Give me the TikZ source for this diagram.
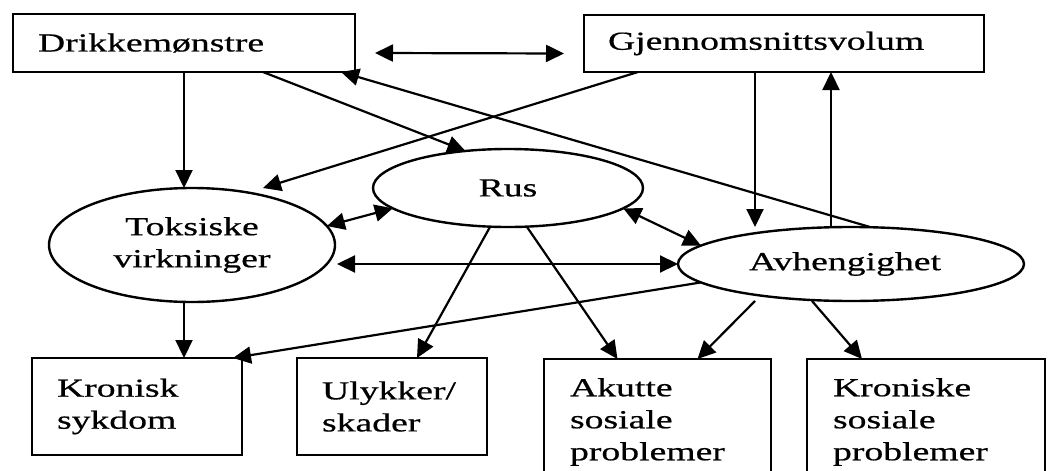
\documentclass[tikz,border=0pt]{standalone}
\usepackage{fontspec}
\setmainfont{Liberation Serif}[FakeStretch=1.45,FakeBold=0.6]
\usetikzlibrary{arrows.meta,shapes.geometric,calc}
\begin{document}
\begin{tikzpicture}[x=0.5pt,y=-0.5pt,
  font=\fontsize{13}{16}\selectfont,
  box/.style={draw, line width=1.3pt, rectangle, align=left, inner ysep=0pt, outer sep=0pt},
  ell/.style={draw, line width=1.2pt, ellipse, align=center, inner sep=0pt, outer sep=0pt},
  tip/.tip={Triangle[length=9pt,width=8.5pt]},
  arr/.style={line width=1.1pt, -tip},
  darr/.style={line width=1.1pt, tip-tip}]
\useasboundingbox (0,0) rectangle (1050,471);
\clip (0,0) rectangle (1050,471);

% boxes
\node[box, minimum height=29pt, text width=146pt, inner xsep=12.5pt] (drikke) at (184,43) {Drikkemønstre};
\node[box, minimum height=28.5pt, text width=176pt, inner xsep=12pt] (gjen) at (784,43.5) {Gjennomsnittsvolum};
\node[box, minimum height=48.5pt, text width=80pt, inner xsep=12.5pt] (kron) at (137,406.5) {Kronisk\\sykdom};
\node[box, minimum height=48.5pt, text width=70pt, inner xsep=12.5pt] (ulyk) at (392,406.5) {Ulykker/\\skader};
\node[box, minimum height=63pt, text width=87.5pt, inner xsep=13pt] (akut) at (657.5,422) {Akutte\\sosiale\\problemer};
\node[box, minimum height=63pt, text width=93pt, inner xsep=13pt] (krs) at (926,422) {Kroniske\\sosiale\\problemer};

% ellipses
\node[ell, minimum width=143pt, minimum height=57pt] (toks) at (192,245) {Toksiske\\virkninger};
\node[ell, minimum width=135pt, minimum height=39pt] (rus) at (508,188) {Rus};
\node[ell, minimum width=173pt, minimum height=37pt] (avh) at (851,264) {Avhengighet\hspace*{6pt}};

% connectors
\draw[arr] (drikke.south) -- (drikke.south |- toks.north);
\draw[darr] ([xshift=10pt,yshift=-5pt]drikke.east) -- ([xshift=-10pt,yshift=-5pt]gjen.west);
\draw[arr] ([xshift=39.5pt]drikke.south) -- (rus.139);
\draw[arr] ([xshift=-73pt]gjen.south) -- ($(toks.center)+(71,-57)$);
\draw[arr] ([xshift=9.5pt]avh.north) -- ([xshift=-7pt]drikke.south east);
\draw[arr] ([xshift=-14.5pt]gjen.south) -- ([xshift=-14.5pt]gjen.south |- avh.north);
\draw[arr] ([xshift=-10pt]avh.north) -- ([xshift=-10pt]avh.north |- gjen.south);
\draw[darr] (toks.8) -- (rus.190);
\draw[darr] (rus.350) -- (avh.173);
\draw[darr] ([xshift=1pt]toks.east |- avh.west) -- (avh.west);
\draw[arr] ([xshift=-4pt]toks.south) -- ([xshift=-4pt]toks.south |- kron.north);
\draw[arr] (avh.187) -- ([xshift=-4.5pt]kron.north east);
\draw[arr] ([xshift=-9pt]rus.south) -- ([xshift=12.5pt]ulyk.north);
\draw[arr] ([xshift=9.5pt]rus.south) -- ([xshift=-20pt]akut.north);
\draw[arr] ([xshift=-48pt]avh.south) -- ([xshift=20pt]akut.north);
\draw[arr] ([xshift=-19.5pt]avh.south) -- ([xshift=-32pt]krs.north);
\end{tikzpicture}
\end{document}
